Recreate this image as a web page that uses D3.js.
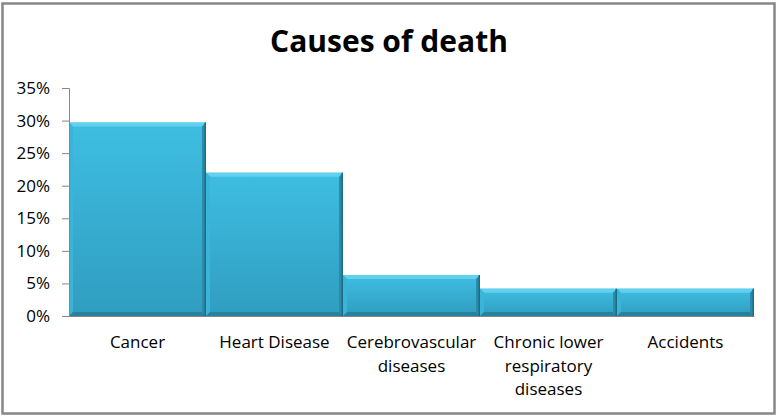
<!DOCTYPE html>
<html><head><meta charset="utf-8">
<script src="https://cdn.jsdelivr.net/npm/d3@7"></script>
<style>body{margin:0;background:#fff}svg{display:block}</style>
</head><body>
<svg id="c" width="779" height="418"></svg>
<script>
const categories = [["Cancer"],["Heart Disease"],["Cerebrovascular","diseases"],["Chronic lower","respiratory","diseases"],["Accidents"]];
const values = [0.297, 0.220, 0.063, 0.042, 0.042];
const tickValues = [0,0.05,0.10,0.15,0.20,0.25,0.30,0.35];
const title = "Causes of death";

const svg = d3.select("#c");
const W=779,H=418;
const m={left:69,right:25,top:88,bottom:102};
const x = d3.scaleBand().domain(d3.range(values.length)).range([m.left, W-m.right]).padding(0);
const y = d3.scaleLinear().domain([0,0.35]).range([H-m.bottom, m.top]);

svg.append("rect").attr("x",2.5).attr("y",3.5).attr("width",772).attr("height",410)
  .attr("fill","#fff").attr("stroke","#878787").attr("stroke-width",2.5);

svg.append("text").attr("x",389).attr("y",52).attr("text-anchor","middle")
  .attr("font-family","Open Sans").attr("font-weight","bold").attr("font-size",30)
  .attr("fill","#000").text(title);

const defs = svg.append("defs");
const g = defs.append("linearGradient").attr("id","bg").attr("x1",0).attr("y1",0).attr("x2",0).attr("y2",1);
g.append("stop").attr("offset","0%").attr("stop-color","#3EBEE2");
g.append("stop").attr("offset","100%").attr("stop-color","#309DBF");

const bars = svg.append("g");
values.forEach((v,i)=>{
  const x0=x(i), x1=x(i)+x.bandwidth(), y0=y(v), y1=y(0);
  const b=4;
  const bg=bars.append("g");
  bg.append("rect").attr("x",x0).attr("y",y0).attr("width",x1-x0).attr("height",y1-y0).attr("fill","url(#bg)");
  bg.append("polygon").attr("points",[[x0,y0],[x1,y0],[x1-b,y0+b],[x0+b,y0+b]].join(" ")).attr("fill","#62D1EF");
  bg.append("polygon").attr("points",[[x0,y0],[x0+b,y0+b],[x0+b,y1-b],[x0,y1]].join(" ")).attr("fill","#3AB4D8");
  bg.append("polygon").attr("points",[[x1,y0],[x1,y1],[x1-b,y1-b],[x1-b,y0+b]].join(" ")).attr("fill","#2A8CAA");
  bg.append("polygon").attr("points",[[x0,y1],[x1,y1],[x1-b,y1-b],[x0+b,y1-b]].join(" ")).attr("fill","#26829F");
  bg.append("line").attr("x1",x1-0.75).attr("x2",x1-0.75).attr("y1",y0).attr("y2",y1).attr("stroke","#1E6B82").attr("stroke-width",1.5);
});

const yAxis = d3.axisLeft(y).tickValues(tickValues).tickFormat(d3.format(".0%")).tickSize(7).tickPadding(12);
const ya = svg.append("g").attr("transform",`translate(${m.left},0)`).call(yAxis);
ya.select(".domain").attr("stroke","#868686");
ya.selectAll(".tick line").attr("stroke","#868686");
ya.selectAll("text").attr("font-family","Open Sans").attr("font-size",17).attr("fill","#000");

const xAxis = d3.axisBottom(x).tickSize(0).tickFormat("");
const xa = svg.append("g").attr("transform",`translate(0,${y(0)})`).call(xAxis);
xa.select(".domain").attr("stroke","#868686");

const lab = svg.append("g");
categories.forEach((lines,i)=>{
  const cx = x(i)+x.bandwidth()/2;
  const t = lab.append("text").attr("x",cx).attr("y",348).attr("text-anchor","middle")
    .attr("font-family","Open Sans").attr("font-size",17).attr("fill","#000");
  lines.forEach((l,j)=>t.append("tspan").attr("x",cx).attr("dy",j?23.5:0).text(l));
});
</script>
</body></html>
